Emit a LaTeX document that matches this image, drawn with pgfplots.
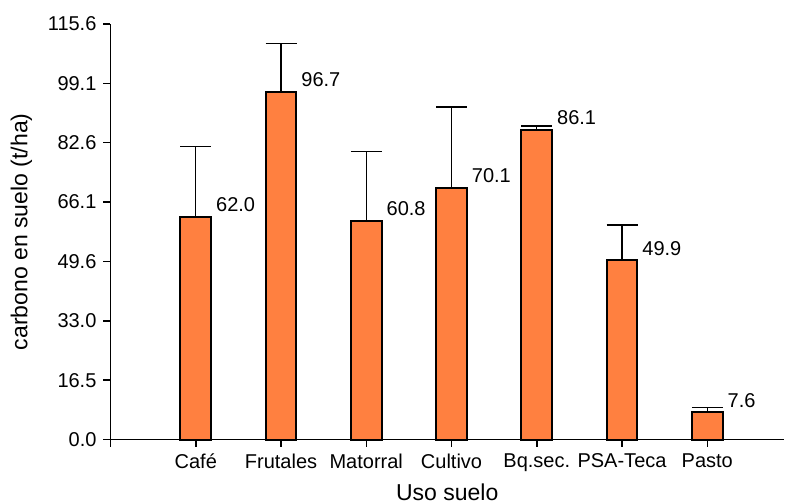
\documentclass[border=0pt]{standalone}
\usepackage{fontspec}
\setmainfont{Liberation Sans}
\usepackage{pgfplots}
\usepackage{pgfplotstable}
\pgfplotsset{compat=1.18}
\definecolor{barorange}{RGB}{255,128,64}
\pgfplotstableread{
x y e
1 62.0 19.5
2 96.7 13.5
3 60.8 19.3
4 70.1 22.4
5 86.1 1.1
6 49.9 9.8
7 7.6 1.4
}\datatable
\begin{document}
\begin{tikzpicture}
\begin{axis}[
 scale only axis, width=336.75pt, height=207.75pt,
 xmin=0, xmax=7.9, ymin=0, ymax=115.6,
 axis lines*=left,
 axis line style={line width=0.75pt},
 tick align=outside, major tick length=3.5pt,
 tick style={black, line width=0.75pt},
 xtick={0,1,...,7},
 xticklabels={,Café,Frutales,Matorral,Cultivo,Bq.sec.,PSA-Teca,Pasto},
 ytick={0,16.514,33.029,49.543,66.057,82.571,99.086,115.6},
 yticklabels={0.0,16.5,33.0,49.6,66.1,82.6,99.1,115.6},
 ticklabel style={font=\fontsize{10}{12}\selectfont},
 /pgf/number format/assume math mode=true,
 xlabel={Uso suelo}, ylabel={carbono en suelo (t/ha)},
 every axis x label/.style={at={([yshift=-30.25pt]axis description cs:0.5,0)}, anchor=base, font=\fontsize{11.5}{13}\selectfont},
 every axis y label/.style={at={([xshift=-41.5pt]axis description cs:0,0.5)}, anchor=base, rotate=90, font=\fontsize{11.5}{13}\selectfont},
 clip=false,
 ybar, bar width=15.35pt, bar shift=0pt,
]
\addplot[fill=barorange, draw=black, line width=1pt,
  error bars/.cd, y dir=plus, y explicit,
  error bar style={black, line width=0.65pt},
  error mark options={black, rotate=90, mark size=7.75pt, line width=0.65pt}]
  table[x=x, y=y, y error=e] {\datatable};
\addplot[draw=none, fill=none, point meta=y,
  nodes near coords={\pgfmathprintnumber[fixed,fixed zerofill,precision=1]{\pgfplotspointmeta}},
  every node near coord/.append style={anchor=west, xshift=10pt, yshift=6pt, inner sep=0pt, font=\fontsize{10}{12}\selectfont, text=black}]
  table[x=x, y=y] {\datatable};
\end{axis}
\pgfresetboundingbox
\path[use as bounding box] (-55.25pt,-31.25pt) rectangle (337.25pt,219.75pt);
\end{tikzpicture}
\end{document}
